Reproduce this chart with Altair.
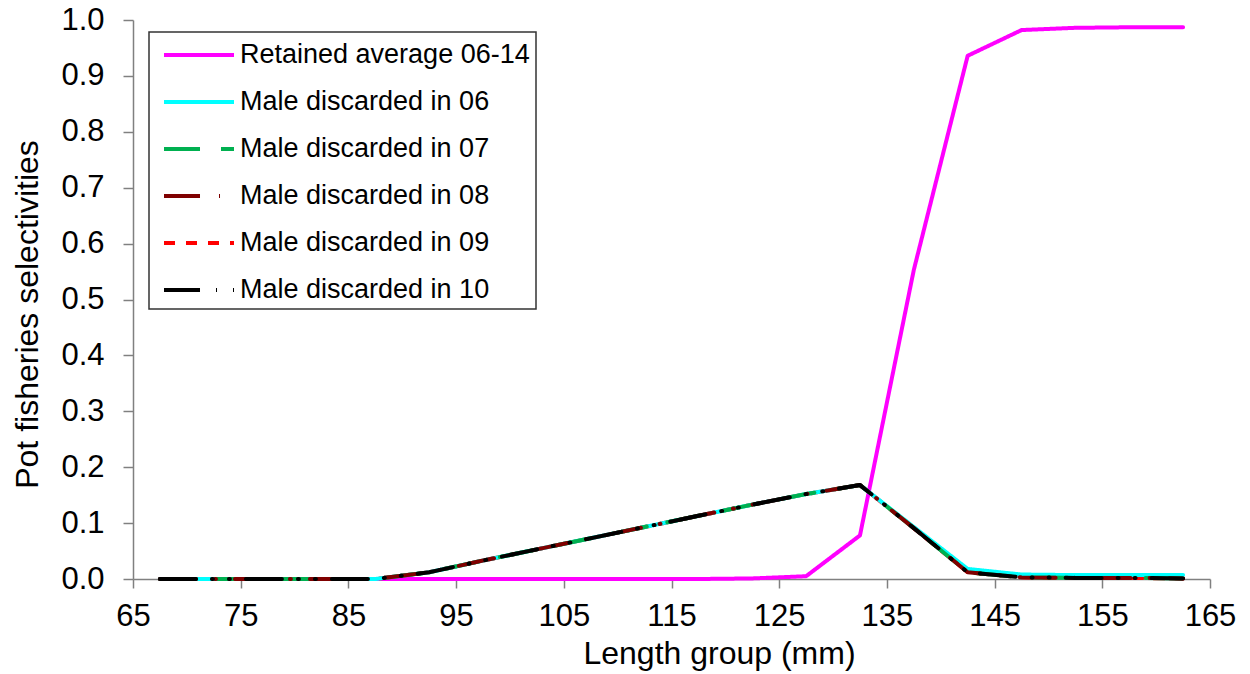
import altair as alt
import pandas as pd

# Length group midpoints (mm)
lengths = [67.5, 72.5, 77.5, 82.5, 87.5, 92.5, 97.5, 102.5, 107.5, 112.5,
           117.5, 122.5, 127.5, 132.5, 137.5, 142.5, 147.5, 152.5, 157.5, 162.5]

series_names = ["Retained average 06-14", "Male discarded in 06", "Male discarded in 07",
                "Male discarded in 08", "Male discarded in 09", "Male discarded in 10"]

retained = [0, 0, 0, 0, 0, 0, 0, 0, 0, 0,
            0, 0.001, 0.005, 0.078, 0.553, 0.936, 0.982, 0.986, 0.987, 0.987]
disc_06 = [0, 0, 0, 0, 0, 0.012, 0.033, 0.053, 0.073, 0.093,
           0.113, 0.133, 0.152, 0.168, 0.093, 0.018, 0.008, 0.007, 0.007, 0.007]
disc_07 = [0, 0, 0, 0, 0, 0.012, 0.033, 0.053, 0.073, 0.093,
           0.113, 0.133, 0.152, 0.168, 0.091, 0.012, 0.003, 0.002, 0.002, 0.001]
disc_08 = [0, 0, 0, 0, 0, 0.012, 0.033, 0.053, 0.073, 0.093,
           0.113, 0.133, 0.152, 0.168, 0.091, 0.012, 0.003, 0.002, 0.002, 0.001]
disc_09 = [0, 0, 0, 0, 0, 0.012, 0.033, 0.053, 0.073, 0.093,
           0.113, 0.133, 0.152, 0.168, 0.091, 0.012, 0.003, 0.002, 0.002, 0.001]
disc_10 = [0, 0, 0, 0, 0, 0.012, 0.033, 0.053, 0.073, 0.093,
           0.113, 0.133, 0.152, 0.168, 0.091, 0.012, 0.003, 0.002, 0.002, 0.001]

series_values = [retained, disc_06, disc_07, disc_08, disc_09, disc_10]

colors = ["#FF00FF", "#00FFFF", "#00B050", "#7F0000", "#FF0000", "#000000"]
dashes = [[1, 0], [1, 0], [36, 21], [36, 19, 1, 19], [11, 11], [36, 16, 1, 16, 1, 16]]

# drawing order (bottom to top); legend order stays as series_names
draw_order = [0, 4, 1, 2, 3, 5]

x_ticks = list(range(65, 166, 10))
y_ticks = [round(i * 0.1, 1) for i in range(11)]

rows = []
for k in draw_order:
    for x, v in zip(lengths, series_values[k]):
        rows.append({"series": series_names[k], "length": x, "value": v})
df = pd.DataFrame(rows)

FONT = "Liberation Sans"

chart = alt.Chart(df).mark_line(strokeWidth=4, strokeCap="round", strokeJoin="round").encode(
    x=alt.X("length:Q",
            scale=alt.Scale(domain=[65, 165], nice=False, zero=False),
            axis=alt.Axis(values=x_ticks, title="Length group (mm)", grid=False,
                          tickSize=9, labelPadding=13, labelFontSize=31, labelFlush=False,
                          titleFontSize=32, titleFontWeight="normal",
                          titleX=586, titleY=84, titleBaseline="alphabetic",
                          titleAlign="center")),
    y=alt.Y("value:Q",
            scale=alt.Scale(domain=[0, 1], nice=False),
            axis=alt.Axis(values=y_ticks, format=".1f", title="Pot fisheries selectivities",
                          grid=False, tickSize=10, labelPadding=19, labelFontSize=31,
                          labelFlush=False,
                          titleFontSize=32, titleFontWeight="normal",
                          titleX=-96, titleY=294, titleBaseline="alphabetic",
                          titleAlign="center", titleAngle=270)),
    color=alt.Color("series:N",
                    scale=alt.Scale(domain=series_names, range=colors),
                    legend=alt.Legend(title=None)),
    strokeDash=alt.StrokeDash("series:N",
                              scale=alt.Scale(domain=series_names, range=dashes),
                              legend=alt.Legend(title=None)),
).properties(
    width=1077,
    height=559,
    autosize=alt.AutoSizeParams(type="none"),
    padding={"left": 133, "top": 20, "right": 40, "bottom": 95},
).configure_axis(
    domainColor="#808080",
    domainWidth=1.5,
    tickColor="#808080",
    tickWidth=1.5,
    labelColor="#000000",
    titleColor="#000000",
    labelFont=FONT,
    titleFont=FONT,
).configure_legend(
    orient="none",
    legendX=16,
    legendY=12,
    strokeColor="#333333",
    strokeWidth=1.5,
    padding=6,
    symbolType="M-0.533,0L4.133,0",
    symbolSize=900,
    symbolStrokeWidth=4,
    labelFontSize=27,
    labelFont=FONT,
    labelColor="#000000",
    labelLimit=400,
    labelOffset=51,
    rowPadding=17,
).configure_view(
    strokeWidth=0
)

chart.save("out.html", embed_options={"renderer": "svg", "actions": False})
